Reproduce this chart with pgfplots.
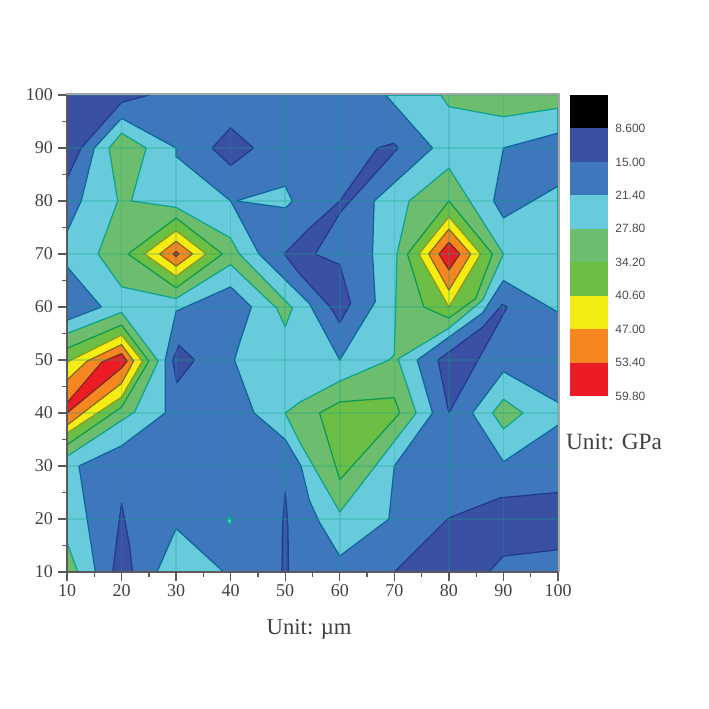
\documentclass[border=0pt]{standalone}
\usepackage{fontspec}
\setmainfont{Liberation Serif}
\newfontfamily\arialf{Liberation Sans}
\usepackage{pgfplots}
\pgfplotsset{compat=1.18}
\definecolor{cBlack}{HTML}{000000}
\definecolor{cDark}{HTML}{3A50A2}
\definecolor{cBlue}{HTML}{3F77BC}
\definecolor{cCyan}{HTML}{68CBDB}
\definecolor{cLG}{HTML}{6CBE6E}
\definecolor{cG}{HTML}{6DBE45}
\definecolor{cY}{HTML}{F5EC13}
\definecolor{cO}{HTML}{F6861F}
\definecolor{cR}{HTML}{ED1C24}
\definecolor{eBlue}{HTML}{0B679C}
\definecolor{eDark}{HTML}{23398F}
\definecolor{eCyan}{HTML}{12A5B5}
\definecolor{eLG}{HTML}{0FA58A}
\definecolor{eG}{HTML}{0C9A50}
\definecolor{eY}{HTML}{8E9A20}
\definecolor{eO}{HTML}{8A6A12}
\definecolor{eR}{HTML}{7A2A20}
\definecolor{axc}{HTML}{5A5A5A}
\pgfplotsset{
  reg/.style 2 args={fill=#1,draw=#2,line width=0.95pt,mark=none,line join=round,forget plot},
}
\begin{document}
\begin{tikzpicture}[x=0.75pt,y=0.75pt]
\path[use as bounding box] (-67,-137) rectangle (642,572);
\begin{axis}[
  at={(0pt,0pt)},anchor=south west,
  scale only axis,width=368.25pt,height=357.75pt,
  xmin=10,xmax=100,ymin=10,ymax=100,
  xtick={10,20,...,100},ytick={10,20,...,100},
  minor x tick num=1,minor y tick num=1,
  tick align=outside,
  major tick length=7pt,minor tick length=3.75pt,
  axis x line*=bottom,axis y line*=left,
  tick style={color=axc,line width=1pt},
  grid=major,
  major grid style={color=eLG,opacity=0.25,line width=1.2pt},
  axis on top,
  axis line style={line width=1.2pt,color=axc,-},
  ticklabel style={font=\fontsize{13.5}{14}\selectfont,text=black!75},
  xticklabel style={yshift=1.5pt},
  /pgf/number format/assume math mode=true,
  xlabel={Unit: µm},
  xlabel style={font=\fontsize{17}{18}\selectfont,text=black!75,yshift=-10.5pt,xshift=-2.5pt},
]
% base level
\addplot[reg={cCyan}{eCyan}] coordinates {(10,10)(100,10)(100,100)(10,100)} --cycle;
% 15.00-21.40 regions
\addplot[reg={cBlue}{eBlue}] coordinates {(10,74.2)(12.6,80)(15,90)(20,95.6)(30,90)(30,88.4)(40,80)(45.2,70)(54.4,60.7)(60,50)(66.5,61)(66,70)(66.3,80)(77,90)(68.4,100)(68.4,101)(9,101)(9,74.2)} --cycle;
\addplot[reg={cBlue}{eBlue}] coordinates {(9,67.6)(10,67.6)(16.3,60)(10,57.5)(9,57.5)} --cycle;
\addplot[reg={cBlue}{eBlue}] coordinates {(30,59.2)(40,63.8)(43.8,60)(41.8,53.8)(40.7,50)(44.3,40)(50,35)(52.9,30)(54.4,23.6)(56.2,19.5)(60,13)(69,20)(70,30)(77,40)(74.2,50)(86.2,58.9)(90,65)(100,59)(101,59)(101,9)(38.7,9)(38.7,10)(30,18.2)(26.5,10)(26.5,9)(15.2,9)(15.2,10)(12.2,30)(20,33.8)(28,40)(28,50)} --cycle;
\addplot[reg={cBlue}{eBlue}] coordinates {(101,92.8)(100,92.8)(90,90)(88.2,80)(90,76.8)(100,82.8)(101,82.8)} --cycle;
% darker regions
\addplot[reg={cDark}{eDark}] coordinates {(9,101)(25,101)(25,100)(20,98.6)(12.6,90)(10,84.3)(9,84.3)} --cycle;
\addplot[reg={cDark}{eDark}] coordinates {(40,93.8)(44.2,90)(40,86.7)(36.6,90)} --cycle;
\addplot[reg={cDark}{eDark}] coordinates {(49.8,70)(54.4,74.8)(60,80)(66.9,90)(69.9,90.9)(70.7,90)(60.2,78)(55.5,70)(60,68)(62,60.7)(60,57)(58.4,59.8)(52.6,66.3)} --cycle;
\addplot[reg={cDark}{eDark}] coordinates {(30.5,52.8)(33.4,50)(30.1,45.7)(29.4,50)} --cycle;
\addplot[reg={cDark}{eDark}] coordinates {(20,23)(21.5,14.8)(22,10)(22,9)(18.4,9)(18.4,10)(19.1,16)} --cycle;
\addplot[reg={cDark}{eDark}] coordinates {(50,25.2)(50.5,18.5)(50.6,10)(50.6,9)(49.4,9)(49.4,10)(49.5,18.5)} --cycle;
\addplot[reg={cDark}{eDark}] coordinates {(78,50)(80,40)(90.7,60)(89.8,60.5)(86.2,56.2)} --cycle;
\addplot[reg={cDark}{eDark}] coordinates {(70,9)(70,10)(80,20.2)(89.4,24)(100,25)(101,25)(101,14.2)(100,14.2)(90,13)(87.3,10)(87.3,9)} --cycle;
% cyan islands on blue
\addplot[reg={cCyan}{eBlue}] coordinates {(101,42)(100,42)(90,47.8)(84.3,40)(90,30.8)(100,37.7)(101,37.7)} --cycle;
\addplot[reg={cCyan}{eBlue}] coordinates {(41,80)(50,82.8)(51.3,80)(50.1,78.7)} --cycle;
\addplot[reg={cCyan}{eLG}] coordinates {(39.8,20.5)(40.2,19.6)(39.8,18.8)(39.4,19.6)} --cycle;
% 27.80-34.20 regions
\addplot[reg={cLG}{eLG}] coordinates {(20,92.8)(24.5,90)(21.8,80)(30,78.8)(40,73)(41.6,70)(51.3,59.8)(50,56.3)(48.4,59.8)(40,68)(30,61.6)(20,63.8)(15.7,70)(19.3,80)(17.7,90)} --cycle;
\addplot[reg={cLG}{eLG}] coordinates {(9,55)(10,55)(20,59)(26.7,49.8)(22.4,40.2)(10,31.8)(9,31.8)} --cycle;
\addplot[reg={cLG}{eLG}] coordinates {(9,15.5)(10,15.5)(12,10)(12,9)(9,9)} --cycle;
\addplot[reg={cLG}{eLG}] coordinates {(72.7,80)(80,86.2)(90,70)(86.2,61.3)(80,56)(70.7,50.2)(74,40)(60,21.3)(52.6,34.6)(50,40)(52.6,42)(60,46)(69,50)(70,51)(70.5,70)} --cycle;
\addplot[reg={cLG}{eLG}] coordinates {(78.5,101)(78.5,100)(80,97.8)(90,95.9)(100,97.5)(101,97.5)(101,101)} --cycle;
\addplot[reg={cLG}{eLG}] coordinates {(90,42.6)(93.6,40)(90,37)(88,40)} --cycle;
% 34.20-40.60 regions
\addplot[reg={cG}{eG}] coordinates {(30,76.8)(38.5,70)(30,63.6)(21.2,70)} --cycle;
\addplot[reg={cG}{eG}] coordinates {(9,52.2)(10,52.2)(20,56.6)(25,49.8)(20,41.1)(10,34)(9,34)} --cycle;
\addplot[reg={cG}{eG}] coordinates {(80,80)(88,70)(84.9,61.6)(80,57.9)(75.4,60)(72.4,70)} --cycle;
\addplot[reg={cG}{eG}] coordinates {(60,42.1)(70,42.9)(71,40)(60,27.4)(56.3,40)} --cycle;
% 40.60-47.00 regions
\addplot[reg={cY}{eY}] coordinates {(30,74.4)(35.5,70)(30,65.8)(24.2,70)} --cycle;
\addplot[reg={cY}{eY}] coordinates {(9,49.6)(10,49.6)(20,54.7)(23.8,49.8)(20,43)(10,36.2)(9,36.2)} --cycle;
\addplot[reg={cY}{eY}] coordinates {(80,77)(85.8,70)(80,60)(74.5,70)} --cycle;
% 47.00-53.40 regions
\addplot[reg={cO}{eO}] coordinates {(30,72.4)(33,70)(30,67.7)(27,70)} --cycle;
\addplot[reg={cO}{eO}] coordinates {(9,46.2)(10,46.2)(13.7,49.8)(20,52.9)(22.2,49.8)(20,45.6)(10,37.7)(9,37.7)} --cycle;
\addplot[reg={cO}{eO}] coordinates {(80,74.7)(84,70)(80,63.2)(76.3,70)} --cycle;
% 53.40-59.80 regions
\addplot[reg={cR}{eR}] coordinates {(30,70.5)(30.5,70)(30,69.5)(29.5,70)} --cycle;
\addplot[reg={cR}{eR}] coordinates {(9,41.9)(10,41.9)(16.4,49.6)(20,51.2)(21,49.8)(20,48.5)(10,40)(9,40)} --cycle;
\addplot[reg={cR}{eR}] coordinates {(80,72.2)(82,70)(80,67)(78.2,70)} --cycle;
\end{axis}
\draw[color=black!35,line width=1.2pt] (-1,478)--(492,478)--(492,0);
% colour scale
\begin{axis}[
  at={(503pt*0.75,0pt)},anchor=south west,
  yshift=176*0.75pt,
  scale only axis,width=28.5pt,height=225.75pt,
  xmin=0,xmax=1,ymin=0,ymax=9,
  y dir=reverse,
  xtick=\empty,
  ytick={1,2,...,9},
  yticklabels={8.600,15.00,21.40,27.80,34.20,40.60,47.00,53.40,59.80},
  ytick pos=right,
  major tick length=0pt,
  axis line style={draw=none},
  yticklabel style={font=\arialf\fontsize{9}{10}\selectfont,text=black!70,xshift=2pt},
]
\addplot[fill=cBlack,draw=none,mark=none] coordinates {(0,0)(1,0)(1,1)(0,1)} --cycle;
\addplot[fill=cDark,draw=none,mark=none] coordinates {(0,1)(1,1)(1,2)(0,2)} --cycle;
\addplot[fill=cBlue,draw=none,mark=none] coordinates {(0,2)(1,2)(1,3)(0,3)} --cycle;
\addplot[fill=cCyan,draw=none,mark=none] coordinates {(0,3)(1,3)(1,4)(0,4)} --cycle;
\addplot[fill=cLG,draw=none,mark=none] coordinates {(0,4)(1,4)(1,5)(0,5)} --cycle;
\addplot[fill=cG,draw=none,mark=none] coordinates {(0,5)(1,5)(1,6)(0,6)} --cycle;
\addplot[fill=cY,draw=none,mark=none] coordinates {(0,6)(1,6)(1,7)(0,7)} --cycle;
\addplot[fill=cO,draw=none,mark=none] coordinates {(0,7)(1,7)(1,8)(0,8)} --cycle;
\addplot[fill=cR,draw=none,mark=none] coordinates {(0,8)(1,8)(1,9)(0,9)} --cycle;
\end{axis}
\node[anchor=center,font=\fontsize{17.5}{18}\selectfont,text=black!75] at (547,130) {Unit: GPa};
\end{tikzpicture}
\end{document}
